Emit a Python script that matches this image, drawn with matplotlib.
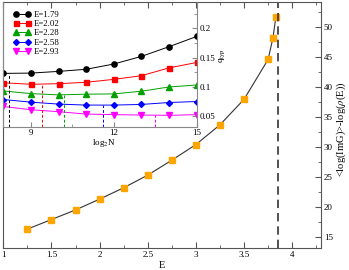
import matplotlib
matplotlib.use("Agg")
import matplotlib.pyplot as plt
from matplotlib.ticker import MultipleLocator, FormatStrFormatter

plt.rcParams['font.family'] = ['Liberation Serif', 'DejaVu Serif']
plt.rcParams['mathtext.fontset'] = 'stix'

# Main data
E_vals = [1.25, 1.5, 1.75, 2.0, 2.25, 2.5, 2.75, 3.0, 3.25, 3.5, 3.75, 3.80, 3.83]
logG = [16.3, 17.9, 19.5, 21.3, 23.2, 25.3, 27.8, 30.4, 33.7, 37.95, 44.6, 48.2, 51.6]
E_crit = 3.85

# Inset data
log2N = [8, 9, 10, 11, 12, 13, 14, 15]
labels = ["E=1.79", "E=2.02", "E=2.28", "E=2.58", "E=2.93"]
q_179 = [0.123, 0.1235, 0.1264, 0.130, 0.139, 0.152, 0.1686, 0.186]
q_202 = [0.107, 0.1044, 0.1054, 0.1078, 0.1128, 0.119, 0.1324, 0.1416]
q_228 = [0.093, 0.0885, 0.0863, 0.0875, 0.088, 0.0926, 0.0998, 0.1032]
q_258 = [0.0784, 0.0739, 0.0706, 0.0689, 0.0689, 0.070, 0.0733, 0.075]
q_293 = [0.0665, 0.061, 0.0576, 0.0536, 0.0526, 0.0519, 0.0514, 0.0526]
min_pos = [8.22, 9.40, 10.2, 11.6, 13.5]
min_val = [0.123, 0.1044, 0.0865, 0.069, 0.0518]

colors = ['black', 'red', '#00a000', 'blue', 'magenta']
markers = ['o', 's', '^', 'D', 'v']
msizes = [3.8, 3.6, 3.8, 3.0, 3.8]

fig = plt.figure(figsize=(3.49, 2.70), dpi=100)
ax = fig.add_axes([0.0095, 0.0804, 0.9105, 0.9126])
spine_c = '#555555'
for s in ax.spines.values():
    s.set_color(spine_c)
    s.set_linewidth(0.8)

ax.plot(E_vals, logG, color='#333333', lw=0.8, marker='s', ms=4.5,
        mfc='#ffa500', mec='#ffa500')
ax.axvline(E_crit, color='#333333', lw=1.2, ls=(0, (5, 3)))
ax.set_xlim(1, 4.3)
ax.set_ylim(13.1, 54.2)
ax.xaxis.set_major_locator(MultipleLocator(0.5))
ax.xaxis.set_minor_locator(MultipleLocator(0.25))
ax.xaxis.set_major_formatter(FormatStrFormatter('%g'))
ax.yaxis.set_major_locator(MultipleLocator(5))
ax.yaxis.set_minor_locator(MultipleLocator(2.5))
ax.yaxis.tick_right()
ax.yaxis.set_label_position('right')
ax.tick_params(axis='x', which='both', direction='in', top=True, bottom=True,
               labelsize=6.5, color=spine_c, pad=2)
ax.tick_params(axis='x', which='major', length=4)
ax.tick_params(axis='x', which='minor', length=2.5)
ax.tick_params(axis='y', which='both', direction='in', left=False, right=True,
               labelsize=6.5, color=spine_c, pad=2)
ax.tick_params(axis='y', which='major', length=4)
ax.tick_params(axis='y', which='minor', length=2.5)
ax.set_xlabel('E', fontsize=7.5)
ax.set_ylabel(r'<log(ImG)>-log($\rho$(E))', fontsize=7.6, rotation=90)
ax.xaxis.set_label_coords(0.5, -0.052)
ax.yaxis.set_label_coords(1.043, 0.485)

# Inset
ins = fig.add_axes([0.0095, 0.5307, 0.5541, 0.4623])
ins.set_facecolor('none')
for s in ins.spines.values():
    s.set_color('#888888')
    s.set_linewidth(0.8)
ins.spines['top'].set_visible(False)
series = [q_179, q_202, q_228, q_258, q_293]
for ys, c, m, ms, lab in zip(series, colors, markers, msizes, labels):
    ins.plot(log2N, ys, color=c, lw=0.7, marker=m, ms=ms, mfc=c, mec=c, label=lab)
ins.set_xlim(8, 15)
ins.set_ylim(0.032, 0.245)
for xp, yp, c in zip(min_pos, min_val, colors):
    ins.plot([xp, xp], [0.032, yp], color=c, lw=0.7, ls=(0, (3, 2)))
ins.xaxis.set_major_locator(MultipleLocator(3))
ins.xaxis.set_minor_locator(MultipleLocator(1.5))
ins.yaxis.set_major_locator(MultipleLocator(0.05))
ins.yaxis.set_minor_locator(MultipleLocator(0.025))
ins.yaxis.tick_right()
ins.yaxis.set_label_position('right')
ins.tick_params(axis='both', which='both', direction='in', labelsize=6.5,
                color='#888888', pad=2)
ins.tick_params(axis='x', which='both', top=False)
ins.tick_params(axis='y', which='both', left=False, right=True)
ins.tick_params(which='major', length=3.5)
ins.tick_params(which='minor', length=2)
ins.set_yticks([0.05, 0.1, 0.15, 0.2])
ins.set_yticklabels(['0.05', '0.1', '0.15', '0.2'])
ins.set_xlabel(r'log$_2$N', fontsize=6.5)
ins.xaxis.set_label_coords(0.52, -0.085)
ins.set_ylabel(r'q$_{\rm typ}$', fontsize=6.5, rotation=90)
ins.yaxis.set_label_coords(1.105, 0.57)
ins.legend(loc='upper left', fontsize=6.3, frameon=False, numpoints=2,
           handlelength=2.0, handletextpad=0.3, labelspacing=0.12,
           borderaxespad=0.0, bbox_to_anchor=(0.035, 0.955))

fig.savefig('out.png', dpi=100)
